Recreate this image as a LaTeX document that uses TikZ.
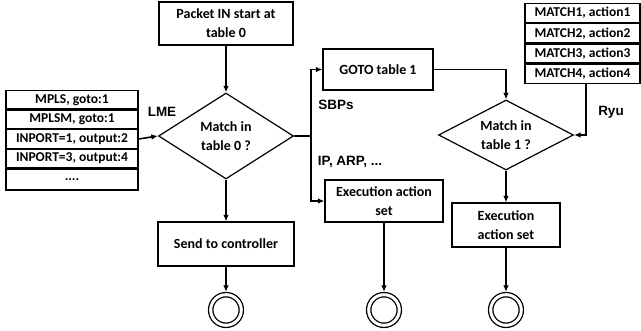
\documentclass[tikz,border=0pt]{standalone}
\usepackage{fontspec}
\setmainfont{Carlito}
\newfontfamily\labfont{Liberation Sans}
\usetikzlibrary{arrows.meta,shapes.geometric}
\tikzset{
  boxtext/.style={font=\fontsize{14}{19}\selectfont\bfseries, align=center},
  celltext/.style={font=\fontsize{13.5}{18}\selectfont\bfseries, align=center},
  stepbox/.style={boxtext, draw, line width=1.2pt, inner sep=0pt, minimum width=#1},
  cell/.style={celltext, draw, line width=1.2pt, inner sep=0pt, anchor=north},
  decision/.style={boxtext, diamond, draw, line width=1.2pt, inner sep=0pt, aspect=2},
  endstate/.style={circle, draw, double, double distance=3pt, line width=1.3pt,
                   minimum size=30.6pt, inner sep=0pt, outer sep=2.8pt},
  flow/.style={line width=1.6pt, -{Latex[length=6.5pt,width=5.5pt]}},
  plain/.style={line width=1.6pt},
  tag/.style={font=\labfont\fontsize{13.5}{16}\selectfont\bfseries}
}
\begin{document}
\begin{tikzpicture}[x=1pt,y=-1pt]
\useasboundingbox (0,0) rectangle (641,331);

% main column: table 0 lookup
\node[stepbox=134pt, minimum height=43pt] (pk) at (226,23.5) {Packet IN start at\\table 0};
\node[decision, minimum width=135pt, minimum height=86pt] (d0) at (226,136) {Match in\\table 0 ?};
\node[stepbox=136pt, minimum height=44pt] (send) at (226,244) {Send to controller};
\node[endstate] (e0) at (226,310) {};

% flow table 0 entries
\node[cell, minimum width=132pt, minimum height=18.4pt] (l1) at (72,90) {MPLS, goto:1};
\node[cell, minimum width=132pt, minimum height=18.4pt] (l2) at (l1.south) {MPLSM, goto:1};
\node[cell, minimum width=132pt, minimum height=18.4pt] (l3) at (l2.south) {INPORT=1, output:2};
\node[cell, minimum width=132pt, minimum height=18.4pt] (l4) at (l3.south) {INPORT=3, output:4};
\node[cell, minimum width=132pt, minimum height=21pt] (l5) at (l4.south) {....};

% middle branch
\coordinate (j) at (311,136);
\node[stepbox=110pt, minimum height=41pt] (goto) at (378,69.5) {GOTO table 1};
\node[stepbox=118pt, minimum height=42pt] (ex1) at (384,201) {Execution action\\set};
\node[endstate] (e1) at (384,310) {};

% table 1 lookup
\node[decision, minimum width=135pt, minimum height=70pt] (d1) at (506,135) {Match in\\table 1 ?};
\node[stepbox=108pt, minimum height=44pt] (ex2) at (506,225) {Execution\\action set};
\node[endstate] (e2) at (506,310) {};

% flow table 1 entries
\node[cell, minimum width=115pt, minimum height=19pt] (r1) at (582.5,3) {MATCH1, action1};
\node[cell, minimum width=115pt, minimum height=19pt] (r2) at (r1.south) {MATCH2, action2};
\node[cell, minimum width=115pt, minimum height=19pt] (r3) at (r2.south) {MATCH3, action3};
\node[cell, minimum width=115pt, minimum height=19pt] (r4) at (r3.south) {MATCH4, action4};

% labels
\node[tag] (lme) at (162,112) {LME};
\node[tag] (sbp) at (336,105) {SBPs};
\node[tag] (ip) at (350,162) {IP, ARP, ...};
\node[tag] (ryu) at (611,112) {Ryu};

% connectors
\draw[flow] (pk) -- (d0);
\draw[flow] (d0) -- (send);
\draw[flow] (send) -- (e0);
\draw[flow] (l3.east) -- (d0.west);
\draw[plain] (d0.east) -- (j);
\draw[flow] (j) |- (goto.west);
\draw[flow] (j) |- (ex1.west);
\draw[flow] (ex1) -- (e1);
\draw[flow] (goto.east) -| (d1.north);
\draw[flow] ([xshift=3.5pt]r4.south) |- (d1.east);
\draw[flow] (d1) -- (ex2);
\draw[flow] (ex2) -- (e2);
\end{tikzpicture}
\end{document}
